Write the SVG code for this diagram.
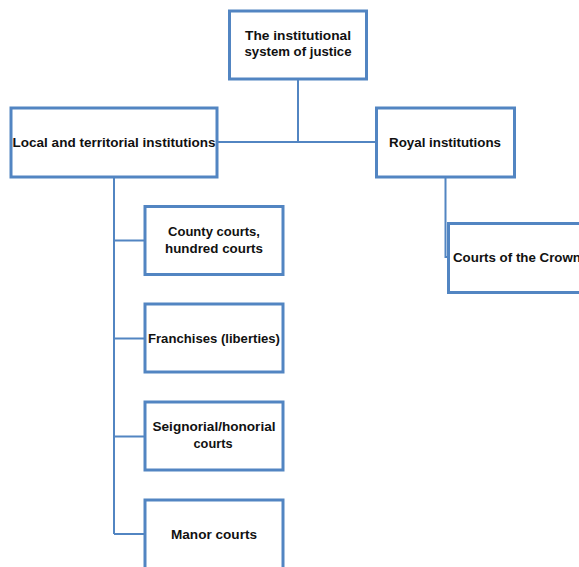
<svg xmlns="http://www.w3.org/2000/svg" width="579" height="567" viewBox="0 0 579 567">
<style>
.box{fill:#fff;stroke:#5285c2;stroke-width:3}
.ln{fill:none;stroke:#5285c2;stroke-width:2}
text{font-family:"Liberation Sans",Arial,sans-serif;font-weight:bold;font-size:13.5px;fill:#111;text-anchor:middle}
</style>
<rect width="579" height="567" fill="#fff"/>
<g id="connectors">
<path class="ln" d="M298 79V142M217 142H376"/>
<path class="ln" d="M114 177V534M114 240.5H144M114 338.5H144M114 436.5H144M114 534H144"/>
<path class="ln" d="M445.5 177V257H448"/>
</g>
<g id="root"><rect class="box" x="229.5" y="11" width="137" height="68"/>
<text x="298" y="39.5" textLength="106" lengthAdjust="spacingAndGlyphs">The institutional</text>
<text x="298" y="56" textLength="107" lengthAdjust="spacingAndGlyphs">system of justice</text></g>
<g id="local"><rect class="box" x="11" y="108" width="206" height="69"/>
<text x="114" y="147" textLength="203" lengthAdjust="spacingAndGlyphs">Local and territorial institutions</text></g>
<g id="royal"><rect class="box" x="376.5" y="108" width="138" height="69"/>
<text x="445" y="147" textLength="112" lengthAdjust="spacingAndGlyphs">Royal institutions</text></g>
<g id="crown"><rect class="box" x="448.5" y="223.5" width="160" height="69"/>
<text x="453" y="262" style="text-anchor:start" textLength="128" lengthAdjust="spacingAndGlyphs">Courts of the Crown</text></g>
<g id="county"><rect class="box" x="145" y="206.5" width="138" height="68"/>
<text x="214" y="236" textLength="92" lengthAdjust="spacingAndGlyphs">County courts,</text>
<text x="214" y="253" textLength="98" lengthAdjust="spacingAndGlyphs">hundred courts</text></g>
<g id="franchises"><rect class="box" x="145" y="304" width="138" height="68"/>
<text x="214" y="342.5" textLength="132" lengthAdjust="spacingAndGlyphs">Franchises (liberties)</text></g>
<g id="seignorial"><rect class="box" x="145" y="402" width="138" height="68"/>
<text x="214" y="430.5" textLength="123" lengthAdjust="spacingAndGlyphs">Seignorial/honorial</text>
<text x="213" y="448" textLength="39" lengthAdjust="spacingAndGlyphs">courts</text></g>
<g id="manor"><rect class="box" x="145" y="500" width="138" height="80"/>
<text x="214" y="538.5" textLength="86" lengthAdjust="spacingAndGlyphs">Manor courts</text></g>
</svg>
